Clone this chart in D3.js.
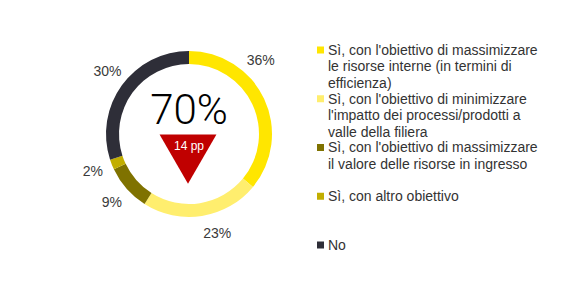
<!DOCTYPE html>
<html>
<head>
<meta charset="utf-8">
<script src="https://cdn.jsdelivr.net/npm/d3@7"></script>
<style>
  body { margin: 0; background: #fff; }
  text { font-family: "Liberation Sans", Arial, sans-serif; }
</style>
</head>
<body>
<div id="container"></div>
<script>
/* CONSTANTS AND GLOBALS */
const width = 561,
  height = 289,
  cx = 189,
  cy = 134,
  outerR = 83,
  innerR = 70;

/* DATA */
const categories = [
  "Sì, con l'obiettivo di massimizzare le risorse interne (in termini di efficienza)",
  "Sì, con l'obiettivo di minimizzare l'impatto dei processi/prodotti a valle della filiera",
  "Sì, con l'obiettivo di massimizzare il valore delle risorse in ingresso",
  "Sì, con altro obiettivo",
  "No"
];
const legendLines = [
  ["Sì, con l'obiettivo di massimizzare", "le risorse interne (in termini di", "efficienza)"],
  ["Sì, con l'obiettivo di minimizzare", "l'impatto dei processi/prodotti a", "valle della filiera"],
  ["Sì, con l'obiettivo di massimizzare", "il valore delle risorse in ingresso"],
  ["Sì, con altro obiettivo"],
  ["No"]
];
const values = [36, 23, 9, 2, 30];
const colors = ["#FFE600", "#FFEE6E", "#7F7200", "#C2AE00", "#2E2E38"];
const centerValue = "70%";
const deltaLabel = "14 pp";

// small angular nudges for the percentage labels (radians)
const labelShift = [-0.36, -0.12, 0, 0.01, 0.03];

// CREATE SVG ELEMENT
const svg = d3.select("#container")
  .append("svg")
  .attr("width", width)
  .attr("height", height);

// PIE + ARC
const pie = d3.pie().sort(null).value(d => d)(values);
const arc = d3.arc().innerRadius(innerR).outerRadius(outerR);

const g = svg.append("g").attr("transform", `translate(${cx},${cy})`);

g.selectAll("path.slice")
  .data(pie)
  .join("path")
  .attr("class", "slice")
  .attr("d", arc)
  .attr("fill", (d, i) => colors[i]);

// PERCENT LABELS
const labelR = 103;
g.selectAll("text.pct")
  .data(pie)
  .join("text")
  .attr("class", "pct")
  .attr("text-anchor", "middle")
  .attr("dominant-baseline", "central")
  .attr("font-size", 14)
  .attr("fill", "#3a3a3a")
  .attr("x", (d, i) => labelR * Math.sin((d.startAngle + d.endAngle) / 2 + labelShift[i]))
  .attr("y", (d, i) => -labelR * Math.cos((d.startAngle + d.endAngle) / 2 + labelShift[i]))
  .text(d => `${d.data}%`);

// CENTER VALUE
g.append("text")
  .attr("text-anchor", "middle")
  .attr("y", -10)
  .attr("font-size", 42)
  .attr("fill", "#000")
  .style("font-family", "Roboto, sans-serif")
  .style("font-weight", 300)
  .text(centerValue);

// DOWN TRIANGLE
const tri = d3.symbol().type(d3.symbolTriangle).size(1400);
g.append("path")
  .attr("d", tri)
  .attr("transform", `translate(-1,17) rotate(180)`)
  .attr("fill", "#C00000");

g.append("text")
  .attr("text-anchor", "middle")
  .attr("y", 16)
  .attr("font-size", 12)
  .attr("fill", "#fff")
  .text(deltaLabel);

// LEGEND
const legendY = d3.scalePoint()
  .domain(categories)
  .range([50, 245]);

const lineH = 16.5;
const legend = svg.append("g").attr("class", "legend");

const item = legend.selectAll("g.item")
  .data(categories)
  .join("g")
  .attr("class", "item")
  .attr("transform", d => `translate(317,${legendY(d)})`);

item.append("rect")
  .attr("x", 0)
  .attr("y", -3.5)
  .attr("width", 7)
  .attr("height", 7)
  .attr("fill", (d, i) => colors[i]);

item.append("text")
  .attr("x", 11)
  .attr("font-size", 14)
  .attr("fill", "#333")
  .selectAll("tspan")
  .data((d, i) => legendLines[i])
  .join("tspan")
  .attr("x", 11)
  .attr("y", (d, j) => j * lineH)
  .attr("dy", "0.35em")
  .text(d => d);
</script>
</body>
</html>
